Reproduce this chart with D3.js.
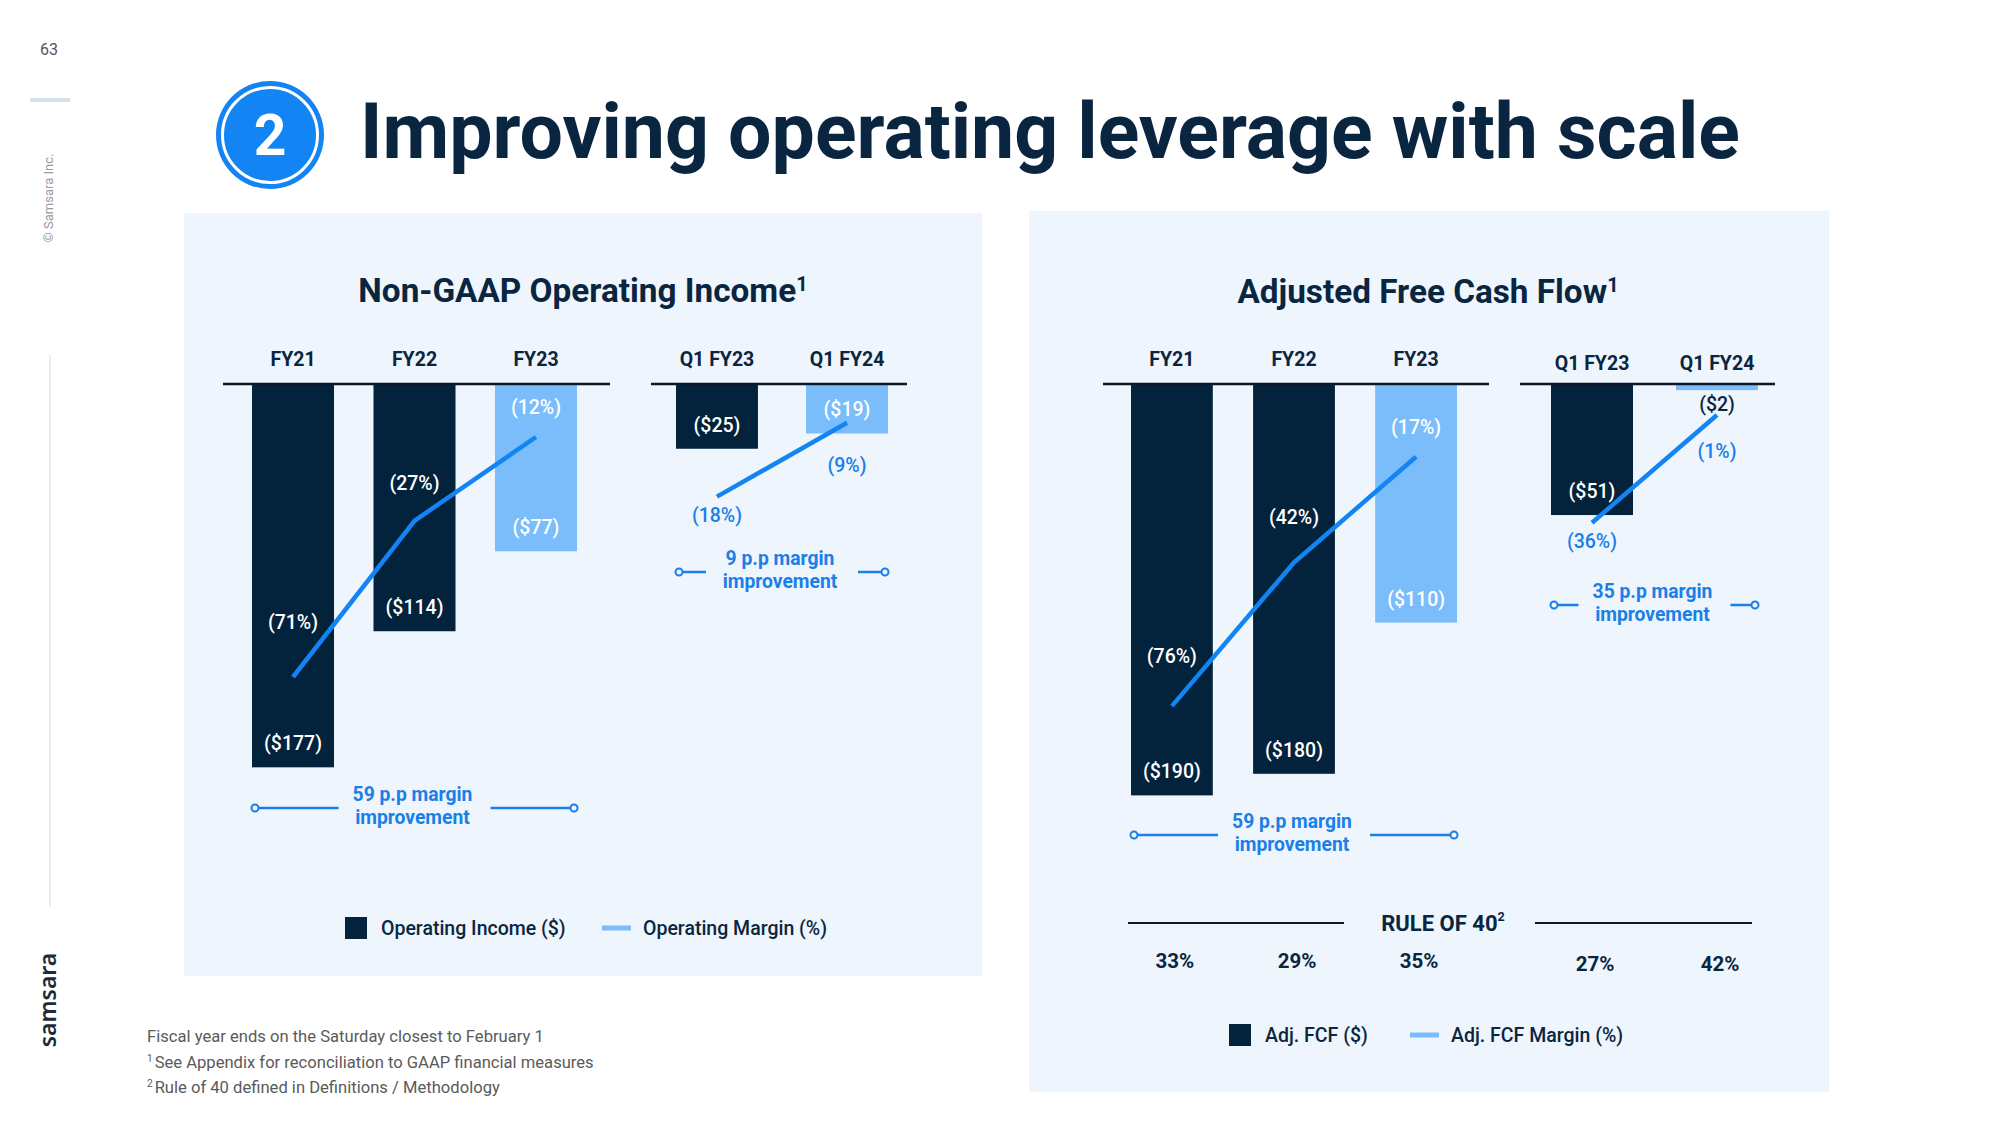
<!DOCTYPE html>
<html>
<head>
<meta charset="utf-8">
<script src="https://cdn.jsdelivr.net/npm/d3@7"></script>
<style>
  html, body { margin: 0; padding: 0; background: #ffffff; }
  svg { display: block; font-family: Roboto, "Noto Sans", sans-serif; }
</style>
</head>
<body>
<svg id="chart" width="2000" height="1125"></svg>
<script>
// ---------------- DATA ----------------
const fyCategories = ["FY21", "FY22", "FY23"];
const qCategories = ["Q1 FY23", "Q1 FY24"];

const opIncomeFY = [-177, -114, -77];      // $M
const opMarginFY = [-71, -27, -12];        // %
const opIncomeQ = [-25, -19];
const opMarginQ = [-18, -9];

const fcfFY = [-190, -180, -110];
const fcfMarginFY = [-76, -42, -17];
const fcfQ = [-51, -2];
const fcfMarginQ = [-36, -1];

const ruleOf40 = [33, 29, 35, 27, 42];     // FY21, FY22, FY23, Q1 FY23, Q1 FY24

const footnotes = [
  ["", "Fiscal year ends on the Saturday closest to February 1"],
  ["1", "See Appendix for reconciliation to GAAP financial measures"],
  ["2", "Rule of 40 defined in Definitions / Methodology"]
];

// ---------------- STYLE ----------------
const C = {
  navy: "#03223B",
  light: "#7ABDFA",
  line: "#1384F3",
  blueText: "#1A7FE8",
  panel: "#EEF5FC",
  title: "#0A2540",
  grey: "#5a5a5a"
};

const svg = d3.select("#chart");

// ---------------- PAGE FURNITURE ----------------
svg.append("text").attr("x", 49).attr("y", 55).attr("text-anchor", "middle")
  .attr("font-size", 16).attr("fill", "#555").text("63");
svg.append("line").attr("x1", 30).attr("x2", 70).attr("y1", 100).attr("y2", 100)
  .attr("stroke", "#D3E2F1").attr("stroke-width", 4);
svg.append("text").attr("transform", "translate(53,198) rotate(-90)")
  .attr("text-anchor", "middle").attr("font-size", 13).attr("fill", "#9a9a9a")
  .text("© Samsara Inc.");
svg.append("line").attr("x1", 50).attr("x2", 50).attr("y1", 355).attr("y2", 907)
  .attr("stroke", "#E6E6E6").attr("stroke-width", 1.5);
svg.append("text").attr("transform", "translate(56,1000) rotate(-90)")
  .attr("text-anchor", "middle").attr("font-size", 23).attr("font-weight", 600)
  .attr("font-family", "'Noto Sans', sans-serif").attr("fill", "#1E2B38").text("samsara");

// title badge
svg.append("circle").attr("cx", 270).attr("cy", 135).attr("r", 54).attr("fill", "#1384F3");
svg.append("circle").attr("cx", 270).attr("cy", 135).attr("r", 47.5)
  .attr("fill", "none").attr("stroke", "#fff").attr("stroke-width", 3);
svg.append("text").attr("x", 270).attr("y", 155).attr("text-anchor", "middle")
  .attr("font-size", 57).attr("font-weight", 700).attr("fill", "#fff").text("2");
svg.append("text").attr("x", 360).attr("y", 158)
  .attr("font-size", 77).attr("font-weight", 700).attr("fill", C.title)
  .text("Improving operating leverage with scale");

// panels
svg.append("rect").attr("x", 184).attr("y", 213).attr("width", 798).attr("height", 763).attr("fill", C.panel);
svg.append("rect").attr("x", 1029).attr("y", 211).attr("width", 800).attr("height", 881).attr("fill", C.panel);

// panel titles
function panelTitle(x, y, txt) {
  const t = svg.append("text").attr("x", x).attr("y", y).attr("text-anchor", "middle")
    .attr("font-size", 33.3).attr("font-weight", 700).attr("fill", C.title);
  t.append("tspan").text(txt);
  t.append("tspan").attr("font-size", 20).attr("dy", -11).text("1");
}
panelTitle(583, 302, "Non-GAAP Operating Income");
panelTitle(1428, 303, "Adjusted Free Cash Flow");

// ---------------- SCALES ----------------
const axisY = 385;
const barFY = d3.scaleLinear().domain([0, -200]).range([0, 432]);   // bar heights
const barQ = d3.scaleLinear().domain([0, -60]).range([0, 153]);

const fmtMoney = v => `($${Math.abs(v)})`;
const fmtPct = v => `(${Math.abs(v)}%)`;

const subpanels = [
  { cats: fyCategories, vals: opIncomeFY, margins: opMarginFY, kind: "fy",
    band: [252, 577], pad: 0.325, axis: [223, 610], labelY: 366, bar: barFY,
    m: d3.scaleSqrt().domain([-12, -71]).range([437, 677]), annY: 808, dy: [-55, -38, -30] },
  { cats: qCategories, vals: opIncomeQ, margins: opMarginQ, kind: "q",
    band: [676, 888], pad: 0.37, axis: [651, 907], labelY: 366, bar: barQ,
    m: d3.scaleLinear().domain([0, -20]).range([349, 513]), annY: 572, dy: [18, 42] },
  { cats: fyCategories, vals: fcfFY, margins: fcfMarginFY, kind: "fy",
    band: [1131, 1457], pad: 0.33, axis: [1103, 1489], labelY: 366, bar: barFY,
    m: d3.scaleLinear().domain([0, -80]).range([385, 723]), annY: 835, dy: [-50, -45, -30] },
  { cats: qCategories, vals: fcfQ, margins: fcfMarginQ, kind: "q",
    band: [1551, 1758], pad: 0.344, axis: [1520, 1775], labelY: 370, bar: barQ,
    m: d3.scaleLinear().domain([0, -40]).range([412, 535]), annY: 605, dy: [18, 36] }
];

const bandCenters = [];

subpanels.forEach(p => {
  const x = d3.scaleBand().domain(p.cats).range(p.band).paddingInner(p.pad).paddingOuter(0);
  const g = svg.append("g");
  const n = p.cats.length;
  const cx = d => x(d) + x.bandwidth() / 2;
  p.cats.forEach(c => bandCenters.push(cx(c)));

  // category axis (labels on top)
  const ax = g.append("g").attr("transform", `translate(0,${p.labelY})`)
    .call(d3.axisTop(x).tickSize(0).tickPadding(0));
  ax.select(".domain").remove();
  ax.selectAll("text").attr("y", 0).attr("dy", 0)
    .attr("font-size", 19.5).attr("font-weight", 700)
    .attr("fill", C.title).attr("font-family", "Roboto, sans-serif");

  // bars
  const data = p.cats.map((c, i) => ({ c, v: p.vals[i], m: p.margins[i], i }));
  g.selectAll("rect.bar").data(data).join("rect")
    .attr("x", d => x(d.c)).attr("y", axisY)
    .attr("width", x.bandwidth()).attr("height", d => p.bar(d.v))
    .attr("fill", d => d.i === n - 1 ? C.light : C.navy);

  // axis line
  g.append("line").attr("x1", p.axis[0]).attr("x2", p.axis[1])
    .attr("y1", axisY - 1).attr("y2", axisY - 1)
    .attr("stroke", "#0A1A2A").attr("stroke-width", 2.5);

  // bar value labels
  g.selectAll("text.val").data(data).join("text")
    .attr("x", d => cx(d.c))
    .attr("y", d => {
      const h = p.bar(d.v);
      return h > 40 ? axisY + h - 24 : axisY + h + 14;
    })
    .attr("dy", "0.36em").attr("text-anchor", "middle")
    .attr("font-size", 19.5).attr("font-weight", 500)
    .attr("fill", d => p.bar(d.v) > 40 ? "#ffffff" : C.title)
    .text(d => fmtMoney(d.v));

  // margin line
  const line = d3.line().x(d => cx(d.c)).y(d => p.m(d.m));
  g.append("path").datum(data).attr("d", line)
    .attr("fill", "none").attr("stroke", C.line).attr("stroke-width", 4.5)
    .attr("stroke-linejoin", "round");

  // margin labels
  g.selectAll("text.mrg").data(data).join("text")
    .attr("x", d => cx(d.c))
    .attr("y", d => p.m(d.m) + p.dy[d.i])
    .attr("dy", "0.36em").attr("text-anchor", "middle")
    .attr("font-size", 19.5).attr("font-weight", 500)
    .attr("fill", p.kind === "fy" ? "#ffffff" : C.blueText)
    .text(d => fmtPct(d.m));

  // improvement annotation
  const imp = p.margins[n - 1] - p.margins[0];
  const mid = (p.band[0] + p.band[1]) / 2;
  const gap = 76;
  const ann = g.append("g");
  [[p.band[0], mid - gap], [mid + gap, p.band[1]]].forEach(([a, b]) => {
    ann.append("line").attr("x1", a).attr("x2", b).attr("y1", p.annY).attr("y2", p.annY)
      .attr("stroke", C.blueText).attr("stroke-width", 2.5);
  });
  [p.band[0] + 3, p.band[1] - 3].forEach(px => {
    ann.append("circle").attr("cx", px).attr("cy", p.annY).attr("r", 3.5)
      .attr("fill", C.panel).attr("stroke", C.blueText).attr("stroke-width", 2);
  });
  ann.append("text").attr("x", mid - 2).attr("y", p.annY - 7).attr("text-anchor", "middle")
    .attr("font-size", 19.3).attr("font-weight", 700).attr("fill", C.blueText)
    .text(`${imp} p.p margin`);
  ann.append("text").attr("x", mid - 2).attr("y", p.annY + 16).attr("text-anchor", "middle")
    .attr("font-size", 19.3).attr("font-weight", 700).attr("fill", C.blueText)
    .text("improvement");
});

// ---------------- RULE OF 40 ----------------
svg.append("line").attr("x1", 1128).attr("x2", 1344).attr("y1", 923).attr("y2", 923)
  .attr("stroke", "#0A1A2A").attr("stroke-width", 2.2);
svg.append("line").attr("x1", 1535).attr("x2", 1752).attr("y1", 923).attr("y2", 923)
  .attr("stroke", "#0A1A2A").attr("stroke-width", 2.2);
const r40 = svg.append("text").attr("x", 1443).attr("y", 931).attr("text-anchor", "middle")
  .attr("font-size", 22).attr("font-weight", 700).attr("fill", C.title);
r40.append("tspan").text("RULE OF 40");
r40.append("tspan").attr("font-size", 12.5).attr("dy", -10).text("2");

const rightCenters = bandCenters.slice(5);
svg.selectAll("text.r40").data(ruleOf40).join("text")
  .attr("x", (d, i) => rightCenters[i] + 3)
  .attr("y", (d, i) => i < 3 ? 968 : 971)
  .attr("text-anchor", "middle").attr("font-size", 20.5).attr("font-weight", 700)
  .attr("fill", C.title).text(d => `${d}%`);

// ---------------- LEGENDS ----------------
function legend(x, y, barTxt, lineTxt, lineX) {
  svg.append("rect").attr("x", x).attr("y", y - 11).attr("width", 22).attr("height", 22).attr("fill", C.navy);
  svg.append("text").attr("x", x + 36).attr("y", y).attr("dy", "0.36em")
    .attr("font-size", 19.5).attr("font-weight", 500).attr("fill", C.title).text(barTxt);
  svg.append("line").attr("x1", lineX).attr("x2", lineX + 29).attr("y1", y).attr("y2", y)
    .attr("stroke", C.light).attr("stroke-width", 5);
  svg.append("text").attr("x", lineX + 41).attr("y", y).attr("dy", "0.36em")
    .attr("font-size", 19.5).attr("font-weight", 500).attr("fill", C.title).text(lineTxt);
}
legend(345, 928, "Operating Income ($)", "Operating Margin (%)", 602);
legend(1229, 1035, "Adj. FCF ($)", "Adj. FCF Margin (%)", 1410);

// ---------------- FOOTNOTES ----------------
footnotes.forEach((f, i) => {
  const t = svg.append("text").attr("x", 147).attr("y", 1042 + i * 25.5)
    .attr("font-size", 16.6).attr("fill", C.grey);
  if (f[0]) {
    t.append("tspan").attr("font-size", 10).attr("dy", -6).text(f[0]);
    t.append("tspan").attr("dy", 6).attr("dx", 2).text(f[1]);
  } else {
    t.text(f[1]);
  }
});
</script>
</body>
</html>
